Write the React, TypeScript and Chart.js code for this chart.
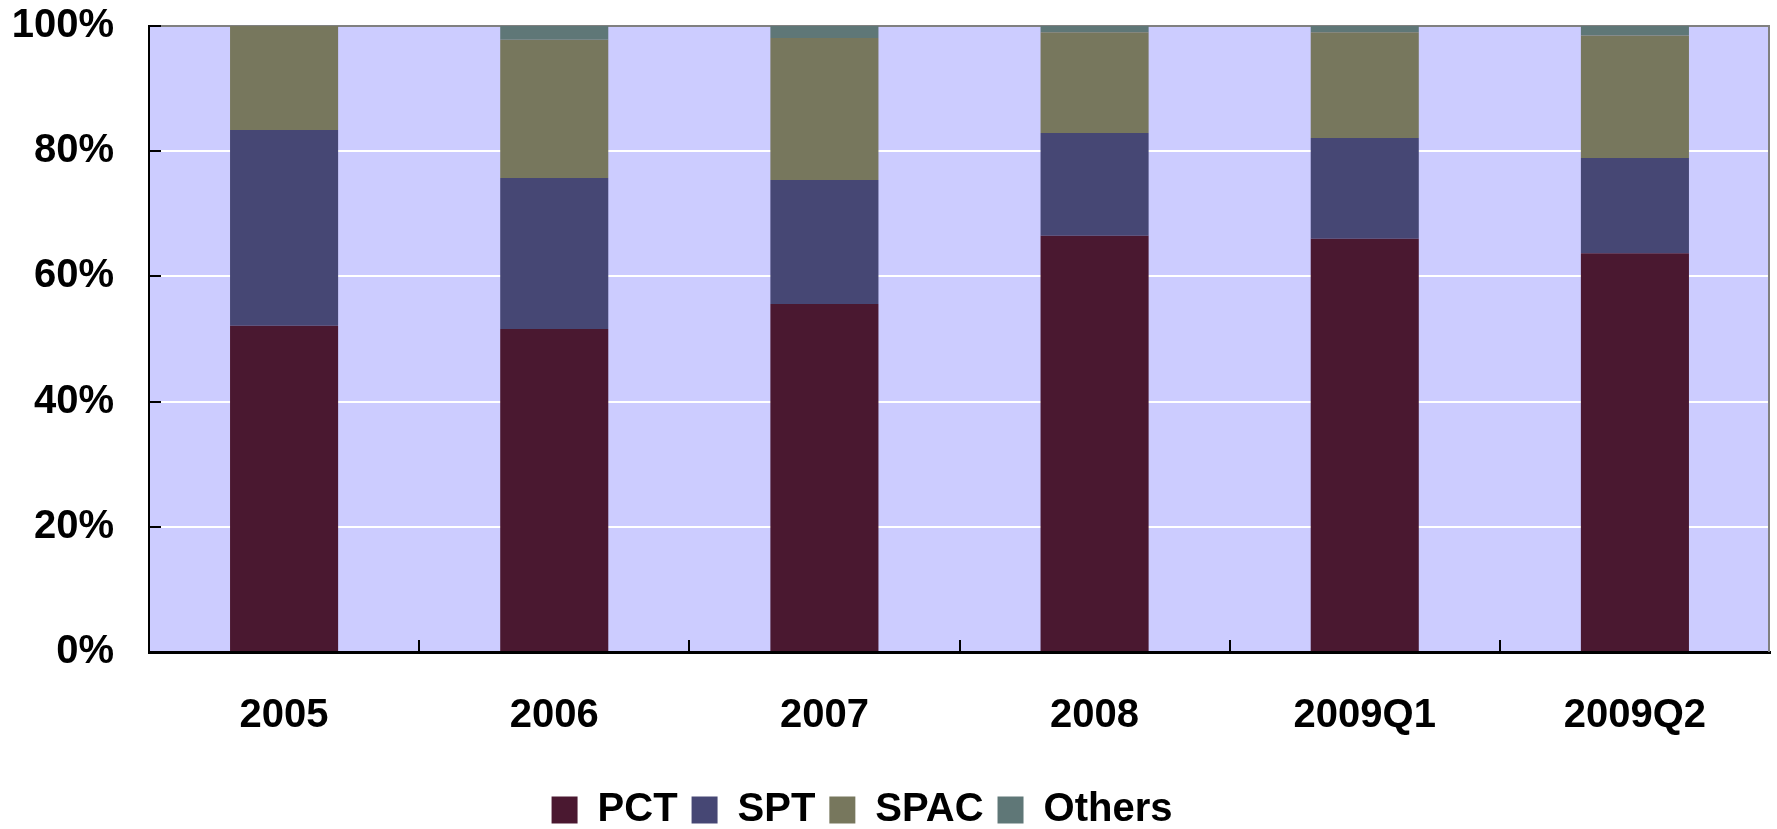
import React, { useEffect, useRef } from 'react';
import { Chart, registerables } from 'chart.js';

Chart.register(...registerables);

const categories = ['2005', '2006', '2007', '2008', '2009Q1', '2009Q2'];
const pctValues = [52.1, 51.6, 55.6, 66.5, 66.0, 63.7];
const sptValues = [31.3, 24.1, 19.8, 16.4, 16.1, 15.2];
const spacValues = [16.6, 22.1, 22.7, 16.1, 16.9, 19.6];
const othersValues = [0, 2.2, 1.9, 1.0, 1.0, 1.5];
const seriesNames = ['PCT', 'SPT', 'SPAC', 'Others'];
const seriesColors = ['#4A1830', '#464774', '#77775D', '#5F7777'];
const yTickValues = [0, 20, 40, 60, 80, 100];

const FONT = '"Liberation Sans", Arial, Helvetica, sans-serif';

export default function App() {
  const ref = useRef<HTMLCanvasElement>(null);

  useEffect(() => {
    if (!ref.current) return;

    const decor = {
      id: 'decor',
      afterLayout(chart: any) {
        const lg = chart.legend;
        if (lg) {
          lg.top += 11;
          lg.bottom += 11;
          lg.width = 1724;
          lg.right = lg.left + 1724;
        }
      },
      beforeDraw(chart: any) {
        const { ctx, chartArea: a } = chart;
        ctx.save();
        ctx.fillStyle = '#CCCCFF';
        ctx.fillRect(a.left, a.top, a.right - a.left, a.bottom - a.top);
        ctx.restore();
      },
      afterDatasetsDraw(chart: any) {
        const { ctx, chartArea: a } = chart;
        const xs = chart.scales.x;
        const ys = chart.scales.y;
        ctx.save();
        ctx.strokeStyle = '#808080';
        ctx.lineWidth = 2;
        ctx.beginPath();
        ctx.moveTo(a.right - 1, a.top);
        ctx.lineTo(a.right - 1, a.bottom);
        ctx.stroke();
        ctx.strokeStyle = '#000000';
        ctx.lineWidth = 2;
        ctx.beginPath();
        yTickValues.forEach((v) => {
          if (v === 0) return;
          const y = Math.round(ys.getPixelForValue(v));
          ctx.moveTo(a.left, y);
          ctx.lineTo(a.left + 12, y);
        });
        for (let i = 1; i < categories.length; i++) {
          const x = Math.round((xs.getPixelForValue(i - 1) + xs.getPixelForValue(i)) / 2);
          ctx.moveTo(x, a.bottom);
          ctx.lineTo(x, a.bottom - 12);
        }
        ctx.stroke();
        ctx.restore();
      },
    };

    const allValues = [pctValues, sptValues, spacValues, othersValues];

    const chart = new Chart(ref.current, {
      type: 'bar',
      data: {
        labels: categories,
        datasets: seriesNames.map((name, i) => ({
          label: name,
          data: allValues[i],
          backgroundColor: seriesColors[i],
          borderWidth: 0,
          barPercentage: 0.4,
          categoryPercentage: 1,
        })),
      },
      options: {
        animation: false,
        responsive: false,
        devicePixelRatio: 1,
        layout: { padding: { left: 0, right: 7, top: 26, bottom: 0 } },
        plugins: {
          tooltip: { enabled: false },
          legend: {
            position: 'bottom',
            labels: {
              boxWidth: 26,
              boxHeight: 27,
              padding: 14,
              color: '#000000',
              font: { family: FONT, size: 40, weight: 'bold' },
            },
          },
        },
        scales: {
          x: {
            stacked: true,
            offset: true,
            grid: { display: false, drawTicks: false },
            border: { display: true, color: '#000000', width: 3 },
            ticks: {
              color: '#000000',
              padding: 40,
              maxRotation: 0,
              font: { family: FONT, size: 40, weight: 'bold' },
            },
            afterFit(scale: any) {
              scale.height = 113;
              scale.paddingLeft = 0;
              scale.paddingRight = 0;
            },
          },
          y: {
            stacked: true,
            min: 0,
            max: 100,
            grid: {
              drawTicks: false,
              lineWidth: 2,
              color: (c: any) =>
                c.tick && c.tick.value === 100
                  ? '#808080'
                  : c.tick && c.tick.value === 0
                  ? 'rgba(0,0,0,0)'
                  : '#FFFFFF',
            },
            border: { display: true, color: '#000000', width: 2 },
            ticks: {
              stepSize: 20,
              color: '#000000',
              padding: 35,
              font: { family: FONT, size: 40, weight: 'bold' },
              callback: (v: any) => v + '%',
            },
            afterFit(scale: any) {
              scale.width = 149;
              scale.paddingTop = 0;
              scale.paddingBottom = 0;
            },
          },
        },
      },
      plugins: [decor],
    } as any);

    return () => {
      chart.destroy();
    };
  }, []);

  return (
    <div style={{ position: 'fixed', left: 0, top: 0, width: 1777, height: 829, background: '#ffffff' }}>
      <canvas ref={ref} width={1777} height={829} style={{ display: 'block' }} />
    </div>
  );
}
